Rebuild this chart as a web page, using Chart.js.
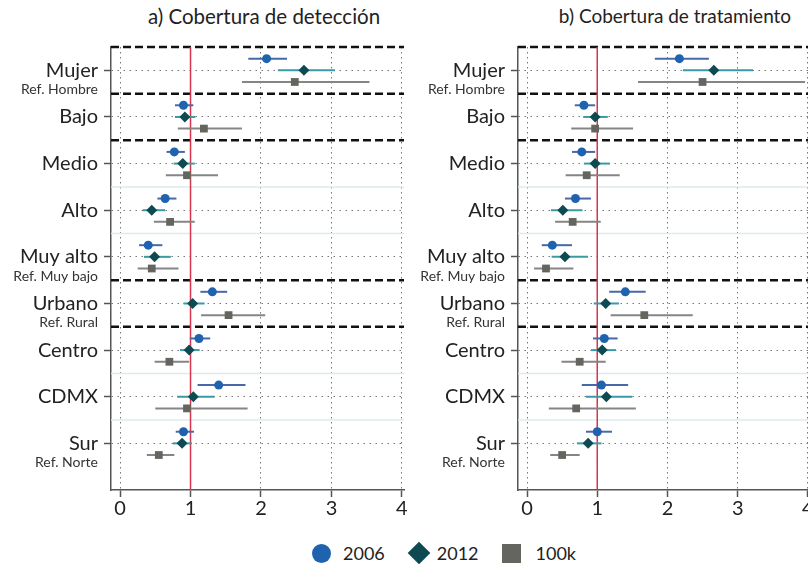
<!DOCTYPE html>
<html>
<head>
<meta charset="utf-8">
<script src="https://cdn.jsdelivr.net/npm/chart.js@4.4.1/dist/chart.umd.min.js"></script>
<style>
html, body { margin: 0; padding: 0; background: #fff; overflow: hidden; width: 808px; height: 564px; }
body { position: relative; font-family: Lato, sans-serif; color: #222; }
canvas { position: absolute; top: 0; }
.title { position: absolute; top: 6px; font-size: 20.5px; line-height: 20px; white-space: nowrap; transform: translateX(-50%); }
#legend { position: absolute; left: 312px; top: 541px; height: 24px; display: flex; align-items: center; }
.item { display: flex; align-items: center; margin-right: 23px; font-size: 18px; }
.mark { margin-right: 12px; }
</style>
</head>
<body>
<div class="title" style="left:264px">a) Cobertura de detección</div>
<div class="title" style="left:675px;font-size:19px">b) Cobertura de tratamiento</div>
<canvas id="detChart" width="410" height="530" style="left:0px"></canvas>
<canvas id="traChart" width="406" height="530" style="left:410px"></canvas>
<div id="legend"></div>
<script>
const categories = ['Mujer', 'Bajo', 'Medio', 'Alto', 'Muy alto', 'Urbano', 'Centro', 'CDMX', 'Sur'];
const refLabels = ['Ref. Hombre', '', '', '', 'Ref. Muy bajo', 'Ref. Rural', '', '', 'Ref. Norte'];
const seriesNames = ['2006', '2012', '100k'];
const xTicks = [0, 1, 2, 3, 4];
const groupBreaks = [-0.5, 0.5, 1.5, 4.5, 5.5];
const rowBreaks = [2.5, 3.5, 6.5, 7.5];

// a) Cobertura de detección
const det2006 = [2.08, 0.90, 0.77, 0.64, 0.40, 1.31, 1.12, 1.40, 0.90];
const det2006Lo = [1.82, 0.78, 0.66, 0.53, 0.27, 1.14, 0.99, 1.10, 0.79];
const det2006Hi = [2.37, 1.04, 0.92, 0.80, 0.60, 1.52, 1.28, 1.78, 1.05];
const det2012 = [2.61, 0.92, 0.89, 0.45, 0.49, 1.03, 0.98, 1.04, 0.88];
const det2012Lo = [2.24, 0.78, 0.76, 0.32, 0.34, 0.90, 0.85, 0.81, 0.75];
const det2012Hi = [3.05, 1.07, 1.06, 0.64, 0.72, 1.20, 1.13, 1.34, 1.02];
const det100k = [2.48, 1.19, 0.95, 0.71, 0.45, 1.54, 0.70, 0.95, 0.55];
const det100kLo = [1.73, 0.82, 0.65, 0.48, 0.25, 1.15, 0.49, 0.50, 0.38];
const det100kHi = [3.54, 1.73, 1.39, 1.06, 0.83, 2.06, 0.98, 1.81, 0.77];

// b) Cobertura de tratamiento
const tra2006 = [2.17, 0.81, 0.78, 0.69, 0.36, 1.40, 1.10, 1.06, 1.00];
const tra2006Lo = [1.82, 0.68, 0.64, 0.54, 0.21, 1.17, 0.94, 0.78, 0.84];
const tra2006Hi = [2.59, 0.97, 0.97, 0.91, 0.64, 1.69, 1.29, 1.44, 1.21];
const tra2012 = [2.66, 0.97, 0.97, 0.51, 0.54, 1.12, 1.07, 1.13, 0.87];
const tra2012Lo = [2.22, 0.80, 0.81, 0.34, 0.35, 0.95, 0.91, 0.84, 0.71];
const tra2012Hi = [3.22, 1.15, 1.18, 0.79, 0.87, 1.31, 1.27, 1.50, 1.06];
const tra100k = [2.50, 0.97, 0.85, 0.65, 0.27, 1.67, 0.75, 0.70, 0.50];
const tra100kLo = [1.58, 0.63, 0.55, 0.40, 0.10, 1.19, 0.49, 0.31, 0.33];
const tra100kHi = [3.96, 1.51, 1.32, 1.05, 0.66, 2.36, 1.12, 1.55, 0.75];

const seriesStyle = [
    { pointStyle: 'circle', radius: 4.5, color: '#1f63b0', ciColor: '#4868a8', offset: -0.25 },
    { pointStyle: 'rectRot', radius: 5.5, color: '#0d4a52', ciColor: '#3a9aa6', offset: 0 },
    { pointStyle: 'rect', radius: 5.5, color: '#65655f', ciColor: '#858585', offset: 0.25 },
];

Chart.defaults.font.family = 'Lato, sans-serif';

// draws separators, the reference line at 1, the intervals and the "Ref." sub labels
const coefPlot = {
    id: 'coefPlot',
    beforeDatasetsDraw(chart) {
        const { ctx, chartArea, scales: { x, y } } = chart;
        const left = chartArea.left, right = chartArea.right;
        ctx.save();

        ctx.strokeStyle = '#dcecec';
        ctx.lineWidth = 1.5;
        rowBreaks.forEach(v => {
            const py = y.getPixelForValue(v);
            ctx.beginPath(); ctx.moveTo(left, py); ctx.lineTo(right, py); ctx.stroke();
        });

        ctx.strokeStyle = '#111';
        ctx.lineWidth = 2.5;
        ctx.setLineDash([8, 4]);
        groupBreaks.forEach(v => {
            const py = y.getPixelForValue(v);
            ctx.beginPath(); ctx.moveTo(left, py); ctx.lineTo(right, py); ctx.stroke();
        });
        ctx.setLineDash([]);

        const x1 = x.getPixelForValue(1);
        ctx.strokeStyle = '#d8354d';
        ctx.lineWidth = 1.5;
        ctx.beginPath(); ctx.moveTo(x1, chartArea.top); ctx.lineTo(x1, chartArea.bottom); ctx.stroke();

        ctx.lineWidth = 2;
        chart.data.datasets.forEach(ds => {
            ctx.strokeStyle = ds.ciColor;
            ds.data.forEach((p, i) => {
                const py = y.getPixelForValue(p.y);
                ctx.beginPath();
                ctx.moveTo(x.getPixelForValue(ds.lo[i]), py);
                ctx.lineTo(x.getPixelForValue(ds.hi[i]), py);
                ctx.stroke();
            });
        });

        ctx.fillStyle = '#333';
        ctx.font = '14px Lato, sans-serif';
        ctx.textAlign = 'right';
        ctx.textBaseline = 'alphabetic';
        refLabels.forEach((t, i) => {
            if (t) ctx.fillText(t, left - 13, y.getPixelForValue(i) + 24);
        });
        ctx.restore();
    }
};

function makeChart(id, est, lo, hi, yWidth) {
    const datasets = seriesNames.map((name, s) => ({
        label: name,
        data: est[s].map((v, i) => ({ x: v, y: i + seriesStyle[s].offset })),
        lo: lo[s],
        hi: hi[s],
        ciColor: seriesStyle[s].ciColor,
        pointStyle: seriesStyle[s].pointStyle,
        pointRadius: seriesStyle[s].radius,
        backgroundColor: seriesStyle[s].color,
        borderColor: seriesStyle[s].color,
        borderWidth: 0,
    }));

    return new Chart(document.getElementById(id), {
        type: 'scatter',
        data: { datasets },
        plugins: [coefPlot],
        options: {
            responsive: false,
            animation: false,
            devicePixelRatio: 1,
            layout: { padding: { top: 47, right: 6, left: 0, bottom: 0 } },
            plugins: { legend: { display: false }, tooltip: { enabled: false } },
            scales: {
                x: {
                    type: 'linear',
                    min: -0.1286,
                    max: 4.03,
                    afterBuildTicks: s => { s.ticks = xTicks.map(v => ({ value: v })); },
                    afterFit: s => { s.height = 40; },
                    grid: { color: '#777', lineWidth: 1, tickLength: 7, tickBorderDash: [], tickColor: '#555', tickWidth: 1.5 },
                    border: { color: '#555', width: 1.5, dash: [1.5, 3.5] },
                    ticks: { font: { size: 20 }, color: '#222', padding: 0, maxRotation: 0 }
                },
                y: {
                    type: 'linear',
                    reverse: true,
                    min: -0.5,
                    max: 9,
                    afterBuildTicks: s => { s.ticks = categories.map((c, i) => ({ value: i })); },
                    afterFit: s => { s.width = yWidth; },
                    grid: { color: '#777', lineWidth: 1, tickLength: 7, tickBorderDash: [], tickColor: '#555', tickWidth: 1.5 },
                    border: { color: '#555', width: 1.5, dash: [1.5, 4.5] },
                    ticks: { callback: v => categories[v], font: { size: 20 }, color: '#222', padding: 6, autoSkip: false }
                }
            }
        }
    });
}

makeChart('detChart',
    [det2006, det2012, det100k],
    [det2006Lo, det2012Lo, det100kLo],
    [det2006Hi, det2012Hi, det100kHi], 111);

makeChart('traChart',
    [tra2006, tra2012, tra100k],
    [tra2006Lo, tra2012Lo, tra100kLo],
    [tra2006Hi, tra2012Hi, tra100kHi], 108);

// legend
const legend = document.getElementById('legend');
seriesNames.forEach((name, s) => {
    const item = document.createElement('div');
    item.className = 'item';
    const mark = document.createElement('div');
    mark.className = 'mark';
    const st = seriesStyle[s];
    if (st.pointStyle === 'circle') {
        mark.style.cssText = `width:19px;height:19px;border-radius:50%;background:${st.color}`;
    } else if (st.pointStyle === 'rectRot') {
        mark.style.cssText = `width:16px;height:16px;margin:0 10px 0 3px;transform:rotate(45deg);background:${st.color}`;
    } else {
        mark.style.cssText = `width:19px;height:19px;background:${st.color};margin-right:15px`;
    }
    const txt = document.createElement('span');
    txt.textContent = name;
    item.appendChild(mark);
    item.appendChild(txt);
    legend.appendChild(item);
});
</script>
</body>
</html>
